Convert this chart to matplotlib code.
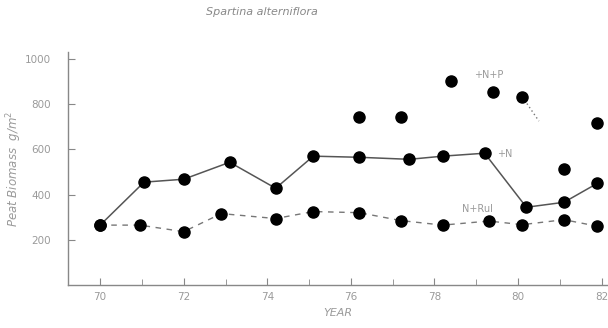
import matplotlib
matplotlib.use("Agg")
import matplotlib.pyplot as plt
from matplotlib.ticker import MultipleLocator

# Data
years_n = [70.0, 71.05, 72.0, 73.1, 74.2, 75.1, 76.2, 77.4, 78.2, 79.2, 80.2, 81.1, 81.9]
biomass_n = [265, 455, 468, 543, 428, 570, 565, 556, 570, 583, 344, 366, 450]

years_rul = [70.0, 70.95, 72.0, 72.9, 74.2, 75.1, 76.2, 77.2, 78.2, 79.3, 80.1, 81.1, 81.9]
biomass_rul = [265, 265, 236, 316, 294, 325, 320, 285, 265, 283, 267, 289, 260]

years_np = [76.2, 77.2, 78.4, 79.4, 80.1, 81.1, 81.9]
biomass_np = [745, 745, 904, 855, 833, 511, 718]

tail_years = [80.1, 80.5]
tail_values = [833, 725]

xticks = [70, 72, 74, 76, 78, 80, 82]
yticks = [200, 400, 600, 800, 1000]

fig = plt.figure(figsize=(6.08, 3.28), dpi=100)
ax = fig.add_axes([0.1118, 0.131, 0.888, 0.71])

grey = "#9a9a9a"
ax.plot(years_n, biomass_n, color="#555555", lw=1.1, marker="o", ms=8,
        mfc="black", mec="black", zorder=3)
ax.plot(years_rul, biomass_rul, color="#777777", lw=1.0, ls=(0, (4, 4)),
        marker="o", ms=8, mfc="black", mec="black", zorder=3)
ax.plot(years_np, biomass_np, ls="none", marker="o", ms=8,
        mfc="black", mec="black", zorder=3)
ax.plot(tail_years, tail_values, color="#777777", lw=1.0, ls=(0, (1, 2)))

ax.text(78.95, 930, "+N+P", color=grey, fontsize=7, ha="left", va="center")
ax.text(79.5, 580, "+N", color=grey, fontsize=7, ha="left", va="center")
ax.text(78.65, 335, "N+Rul", color=grey, fontsize=7, ha="left", va="center")

ax.set_xlim(69.23, 82.15)
ax.set_ylim(0, 1030)
ax.set_xticks(xticks)
ax.set_xticklabels([str(t) for t in xticks])
ax.xaxis.set_minor_locator(MultipleLocator(1))
ax.set_yticks(yticks)
ax.set_yticklabels([str(t) for t in yticks])

for s in ["top", "right"]:
    ax.spines[s].set_visible(False)
for s in ["left", "bottom"]:
    ax.spines[s].set_color("#888888")
    ax.spines[s].set_linewidth(1.0)

ax.tick_params(axis="both", which="both", direction="in", colors="#888888",
               labelcolor=grey, labelsize=7.5)
ax.tick_params(axis="both", which="major", length=5)
ax.tick_params(axis="x", which="minor", length=4)
ax.tick_params(axis="y", pad=12)
ax.tick_params(axis="x", pad=5)

ax.set_xlabel("YEAR", color=grey, fontsize=8, style="italic", labelpad=4)
ax.set_ylabel("Peat Biomass  g/m$^2$", color=grey, fontsize=8.5, style="italic")
ax.yaxis.set_label_coords(-0.082, 0.5)

fig.text(0.43, 0.963, "Spartina alterniflora", color="#888888", fontsize=8,
         style="italic", ha="center", va="center")

fig.savefig("out.png", dpi=100)
